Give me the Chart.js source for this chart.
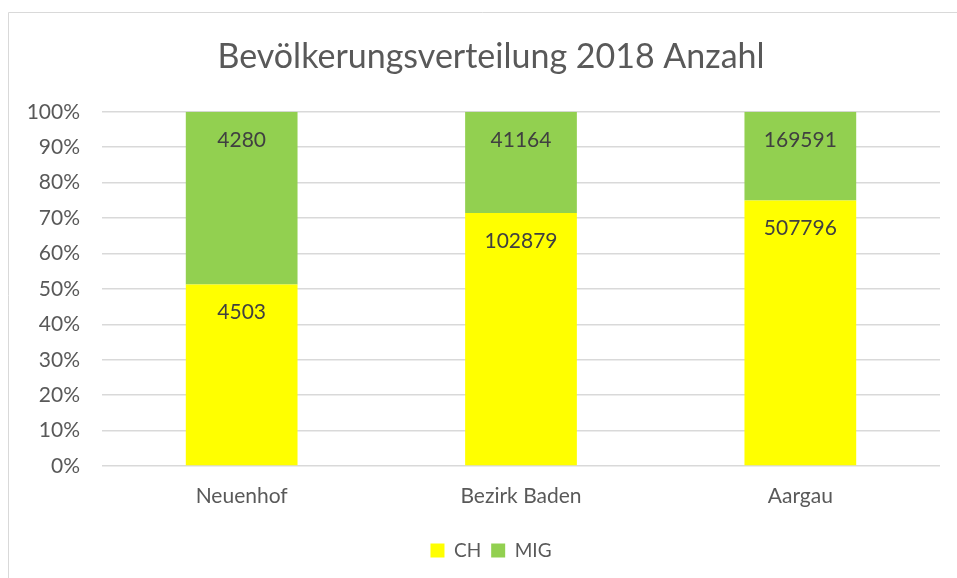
<!DOCTYPE html>
<html>
<head>
<meta charset="utf-8">
<script src="https://cdn.jsdelivr.net/npm/chart.js@4"></script>
<style>
  html, body { margin: 0; padding: 0; background: #fff; }
  #wrap { position: absolute; left: 0; top: 0; width: 957px; height: 578px; }
</style>
</head>
<body>
<div id="wrap"><canvas id="chart" width="957" height="578"></canvas></div>
<script>
// data
const regions = ["Neuenhof", "Bezirk Baden", "Aargau"];
const chValues = [4503, 102879, 507796];
const migValues = [4280, 41164, 169591];
const chartTitle = "Bevölkerungsverteilung 2018 Anzahl";

const totals = regions.map((_, i) => chValues[i] + migValues[i]);
const toPct = (vals) => vals.map((v, i) => v / totals[i] * 100);

const FONT = "Lato, 'Open Sans', sans-serif";
const TEXT = "#595959";

// thin frame at the top and left, like the cropped Excel chart area
const framePlugin = {
    id: "frame",
    beforeDraw(chart) {
        const ctx = chart.ctx;
        ctx.save();
        ctx.strokeStyle = "#d9d9d9";
        ctx.lineWidth = 1;
        ctx.beginPath();
        ctx.moveTo(8.5, chart.height);
        ctx.lineTo(8.5, 12.5);
        ctx.lineTo(chart.width, 12.5);
        ctx.stroke();
        ctx.restore();
    }
};

// title and legend are centred a bit right of the canvas middle
const shiftBlocks = {
    id: "shiftBlocks",
    afterLayout(chart) {
        if (chart.titleBlock) chart.titleBlock.left = 42;
        if (chart.legend) chart.legend.left = 42;
    }
};

// raw counts written inside the top of each segment
const countLabels = {
    id: "countLabels",
    afterDatasetsDraw(chart) {
        const ctx = chart.ctx;
        ctx.save();
        ctx.font = "21px " + FONT;
        ctx.fillStyle = "#404040";
        ctx.textAlign = "center";
        ctx.textBaseline = "middle";
        chart.data.datasets.forEach((ds, di) => {
            const meta = chart.getDatasetMeta(di);
            meta.data.forEach((bar, i) => {
                ctx.fillText(String(ds.raw[i]), bar.x, bar.y + 28);
            });
        });
        ctx.restore();
    }
};

new Chart(document.getElementById("chart"), {
    type: "bar",
    data: {
        labels: regions,
        datasets: [
            { label: "CH", data: toPct(chValues), raw: chValues, backgroundColor: "#ffff00" },
            { label: "MIG", data: toPct(migValues), raw: migValues, backgroundColor: "#92d050" }
        ]
    },
    options: {
        responsive: false,
        animation: false,
        events: [],
        layout: { padding: { left: 0, right: 17, top: 0, bottom: 8 } },
        datasets: { bar: { barPercentage: 0.4, categoryPercentage: 1.0 } },
        scales: {
            x: {
                stacked: true,
                grid: { display: false, drawTicks: false },
                border: { display: false },
                ticks: { color: TEXT, font: { family: FONT, size: 21 }, padding: 18 },
                afterFit(scale) { scale.height = 65; }
            },
            y: {
                stacked: true,
                min: 0,
                max: 100,
                grid: { color: "#d9d9d9", lineWidth: 1.5, drawTicks: false },
                border: { display: false },
                ticks: {
                    stepSize: 10,
                    color: TEXT,
                    font: { family: FONT, size: 21 },
                    padding: 22,
                    callback: (v) => v + "%"
                },
                afterFit(scale) { scale.width = 102; }
            }
        },
        plugins: {
            title: {
                display: true,
                text: chartTitle,
                color: TEXT,
                font: { family: FONT, size: 34, weight: "normal" },
                padding: { top: 37, bottom: 34 }
            },
            legend: {
                position: "bottom",
                labels: {
                    color: TEXT,
                    font: { family: FONT, size: 19 },
                    boxWidth: 14,
                    boxHeight: 14,
                    padding: 10
                }
            },
            tooltip: { enabled: false }
        }
    },
    plugins: [framePlugin, shiftBlocks, countLabels]
});
</script>
</body>
</html>
